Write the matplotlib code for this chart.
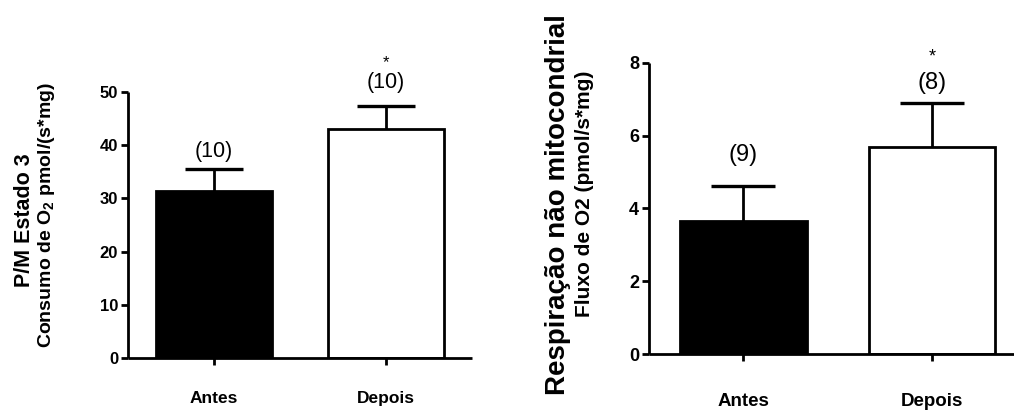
import numpy as np
import matplotlib.pyplot as plt

plt.rcParams['font.family'] = ['Liberation Sans', 'DejaVu Sans']
plt.rcParams['mathtext.fontset'] = 'custom'
plt.rcParams['mathtext.rm'] = 'Liberation Sans'
plt.rcParams['mathtext.bf'] = 'Liberation Sans:bold'

groups = ['Antes', 'Depois']

# P/M estado 3 (consumo de O2)
pm_mean = [31.4, 43.0]
pm_sem = [4.2, 4.45]
pm_n = ['(10)', '(10)']
pm_sig = ['', '*']

# respiracao nao mitocondrial (fluxo de O2)
nm_mean = [3.66, 5.70]
nm_sem = [0.97, 1.20]
nm_n = ['(9)', '(8)']
nm_sig = ['', '*']

fills = ['black', 'white']


def bar_panel(ax, means, sems, ns, sigs, ymax, ystep, capsize, fs, n_offsets, sig_gap, xpad):
    x = np.arange(len(groups))
    ax.bar(x, means, width=0.67, color=fills, edgecolor='black', linewidth=2, zorder=2)
    err = ax.errorbar(x, means, yerr=[np.zeros(len(sems)), sems], fmt='none',
                      ecolor='black', elinewidth=2, capsize=capsize, capthick=2.4, zorder=3)
    err[1][0].set_visible(False)   # only the upper cap
    for i in range(len(x)):
        top = means[i] + sems[i]
        ax.annotate(ns[i], xy=(x[i], top), xytext=(0, n_offsets[i]), textcoords='offset pixels',
                    ha='center', va='center', fontsize=fs['n'])
        if sigs[i]:
            ax.annotate(sigs[i], xy=(x[i], top), xytext=(0, n_offsets[i] + sig_gap),
                        textcoords='offset pixels', ha='center', va='center', fontsize=fs['sig'])
    ax.set_xlim(-0.5, 1.5)
    ax.set_ylim(0, ymax)
    ax.set_yticks(np.arange(0, ymax + ystep / 2, ystep))
    ax.set_xticks(x)
    ax.set_xticklabels(groups, fontweight='bold', fontsize=fs['xt'])
    for lab in ax.get_yticklabels():
        lab.set_fontweight('bold')
        lab.set_fontsize(fs['yt'])
    ax.tick_params(axis='both', direction='out', length=5, width=2)
    ax.tick_params(axis='x', pad=xpad)
    ax.tick_params(axis='y', pad=2)
    for side in ['top', 'right']:
        ax.spines[side].set_visible(False)
    for side in ['left', 'bottom']:
        ax.spines[side].set_linewidth(2)
        ax.spines[side].set_capstyle('butt')


fig = plt.figure(figsize=(10.14, 4.11), dpi=100)

ax1 = fig.add_axes([0.1262, 0.1297, 0.3393, 0.6457])
bar_panel(ax1, pm_mean, pm_sem, pm_n, pm_sig, 50, 10, 21,
          {'n': 15.5, 'sig': 12, 'xt': 12.5, 'yt': 12}, [17, 23], 20, 19)
ax1.text(-0.302, 0.519, 'P/M Estado 3', transform=ax1.transAxes, rotation=90,
         ha='center', va='center', fontsize=15.5, fontweight='bold')
ax1.text(-0.236, 0.538, r'Consumo de O$_\mathbf{2}$ pmol/(s*mg)', transform=ax1.transAxes,
         rotation=90, ha='center', va='center', fontsize=14, fontweight='bold')

ax2 = fig.add_axes([0.6400, 0.1380, 0.3722, 0.7095])
bar_panel(ax2, nm_mean, nm_sem, nm_n, nm_sig, 8, 2, 23,
          {'n': 17, 'sig': 13, 'xt': 13.5, 'yt': 13}, [31, 20], 26, 23)
ax2.text(-0.240, 0.515, 'Respiração não mitocondrial', transform=ax2.transAxes, rotation=90,
         ha='center', va='center', fontsize=20, fontweight='bold')
ax2.text(-0.172, 0.55, 'Fluxo de O2 (pmol/s*mg)', transform=ax2.transAxes, rotation=90,
         ha='center', va='center', fontsize=15, fontweight='bold')

fig.savefig('out.png', dpi=100)
